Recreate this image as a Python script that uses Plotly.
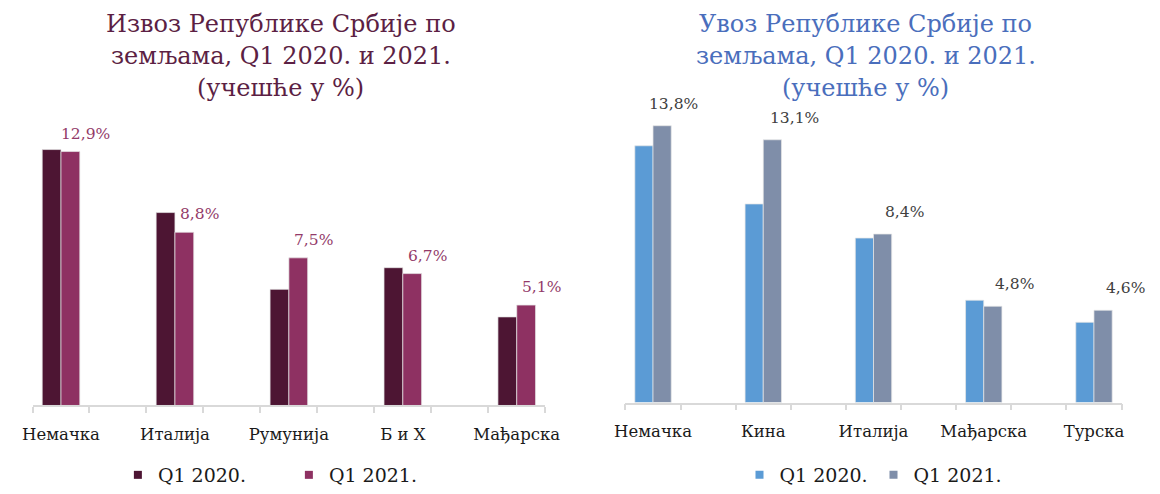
import plotly.graph_objects as go

# ---------------- data ----------------
export_countries = ["Немачка", "Италија", "Румунија", "Б и Х", "Мађарска"]
export_2020 = [13.0, 9.8, 5.9, 7.0, 4.5]
export_2021 = [12.9, 8.8, 7.5, 6.7, 5.1]

import_countries = ["Немачка", "Кина", "Италија", "Мађарска", "Турска"]
import_2020 = [12.8, 9.9, 8.2, 5.1, 4.0]
import_2021 = [13.8, 13.1, 8.4, 4.8, 4.6]

series_names = ["Q1 2020.", "Q1 2021."]

export_title = ["Извоз Републике Србије по", "земљама, Q1 2020. и 2021.", "(учешће у %)"]
import_title = ["Увоз Републике Србије по", "земљама, Q1 2020. и 2021.", "(учешће у %)"]

# ---------------- style ----------------
FONT = "DejaVu Serif"
W, H = 1160, 494
EXP_COLORS = ["#4d1533", "#8e3162"]
IMP_COLORS = ["#5b9bd5", "#7f8ea9"]
EXP_TITLE_COLOR = "#5c1f44"
IMP_TITLE_COLOR = "#4a6ebc"
EXP_LABEL_COLOR = "#933a69"
IMP_LABEL_COLOR = "#404040"
AXIS_COLOR = "#d9d9d9"
BAR_W = 0.33

def fmt(v):
    return f"{v:.1f}".replace(".", ",") + "%"

pos = [2 * i for i in range(len(export_countries))]

fig = go.Figure()

panels = [
    dict(xa="x", ya="y", a=export_2020, b=export_2021, col=EXP_COLORS, legend="legend"),
    dict(xa="x2", ya="y2", a=import_2020, b=import_2021, col=IMP_COLORS, legend="legend2"),
]

for p in panels:
    for k, vals in enumerate([p["a"], p["b"]]):
        fig.add_trace(go.Bar(
            x=pos, y=vals, xaxis=p["xa"], yaxis=p["ya"],
            width=BAR_W, offset=-BAR_W if k == 0 else 0,
            marker=dict(color=p["col"][k], line=dict(color="rgba(230,230,230,0.9)", width=0.8)),
            showlegend=False, hoverinfo="skip",
        ))
    # legend entries with small square symbols
    for k, name in enumerate(series_names):
        fig.add_trace(go.Scatter(
            x=[None], y=[None], xaxis=p["xa"], yaxis=p["ya"], mode="markers",
            marker=dict(symbol="square", size=8, color=p["col"][k]),
            name=name, legend=p["legend"], showlegend=True,
        ))

# axis geometry
left_dom = [22 / W, 546 / W]
right_dom = [628 / W, 1135 / W]
left_base = (H - 413) / H
right_base = (H - 410) / H
YMAX = 15
left_top = left_base + YMAX * 20.05 / H
right_top = right_base + YMAX * 20.43 / H

def xaxis_cfg(dom, labels, anchor):
    return dict(
        domain=dom, range=[-0.5, 8.5], anchor=anchor,
        tickmode="array", tickvals=pos, ticktext=labels,
        ticks="", showline=True, linecolor=AXIS_COLOR, linewidth=1.5,
        showgrid=False, zeroline=False, fixedrange=True,
        tickfont=dict(family=FONT, size=16.5, color="#1a1a1a"),
        ticklabelstandoff=13,
        minor=dict(ticks="outside", tickmode="linear", tick0=-0.5, dtick=1,
                   ticklen=6, tickwidth=1.5, tickcolor=AXIS_COLOR, showgrid=False),
    )

LEG_FONT = dict(family=FONT, size=19, color="#1a1a1a")
fig.update_layout(
    width=W, height=H,
    margin=dict(l=0, r=0, t=0, b=0),
    paper_bgcolor="white", plot_bgcolor="white",
    barmode="overlay",
    xaxis=xaxis_cfg(left_dom, export_countries, "y"),
    xaxis2=xaxis_cfg(right_dom, import_countries, "y2"),
    yaxis=dict(domain=[left_base, left_top], range=[0, YMAX], visible=False, fixedrange=True),
    yaxis2=dict(domain=[right_base, right_top], range=[0, YMAX], visible=False, fixedrange=True, anchor="x2"),
    legend=dict(orientation="h", x=(left_dom[0] + left_dom[1]) / 2, xanchor="center",
                y=(H - 484) / H, yanchor="middle", entrywidth=126, entrywidthmode="pixels",
                font=LEG_FONT, bgcolor="rgba(0,0,0,0)"),
    legend2=dict(orientation="h", x=(right_dom[0] + right_dom[1]) / 2, xanchor="center",
                 y=(H - 484) / H, yanchor="middle", entrywidth=89, entrywidthmode="pixels",
                 font=LEG_FONT, bgcolor="rgba(0,0,0,0)"),
    showlegend=True,
)

annotations = []
# titles
for lines, dom, color in [(export_title, left_dom, EXP_TITLE_COLOR),
                          (import_title, right_dom, IMP_TITLE_COLOR)]:
    for i, line in enumerate(lines):
        annotations.append(dict(
            text=line, xref="paper", yref="paper", x=(dom[0] + dom[1]) / 2, xshift=-8,
            y=1 - (24 + 33 * i) / H, xanchor="center", yanchor="middle", showarrow=False,
            font=dict(family=FONT, size=24, color=color),
        ))

# data labels for the 2021 series
for i, v in enumerate(export_2021):
    annotations.append(dict(
        text=fmt(v), x=pos[i] + BAR_W / 2, y=v, xref="x", yref="y",
        xshift=15, yshift=18, xanchor="center", yanchor="middle", showarrow=False,
        font=dict(family=FONT, size=15.5, color=EXP_LABEL_COLOR),
    ))
for i, v in enumerate(import_2021):
    annotations.append(dict(
        text=fmt(v), x=pos[i] + BAR_W / 2, y=v, xref="x2", yref="y2",
        xshift=11 if i == 0 else 22, yshift=22, xanchor="center", yanchor="middle", showarrow=False,
        font=dict(family=FONT, size=15.5, color=IMP_LABEL_COLOR),
    ))

fig.update_layout(annotations=annotations)

fig.write_html("out.html", config={"displayModeBar": False},
               post_script="document.body.style.margin='0';")
